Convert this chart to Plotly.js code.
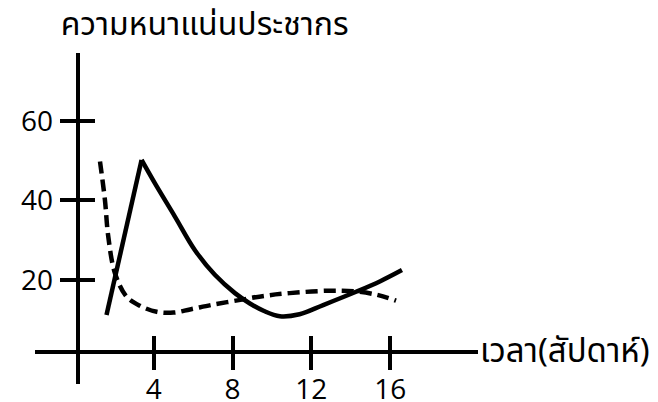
<!DOCTYPE html>
<html>
<head>
<meta charset="utf-8">
<script src="https://cdn.plot.ly/plotly-3.0.1.min.js"></script>
<style>html,body{margin:0;padding:0;background:#fff;}#chart{width:658px;height:402px;}</style>
</head>
<body>
<div id="chart"></div>
<script>
// Data
const titleText = "ความหนาแน่นประชากร";
const xTitleText = "เวลา(สัปดาห์)";
const xTicks = [4, 8, 12, 16];
const yTicks = [20, 40, 60];

// solid curve: straight rise then smooth fall/rise
const solidRiseX = [1.6, 3.38];
const solidRiseY = [11.2, 50.2];
const solidFallX = [3.38, 4.06, 5.08, 6.09, 7.1, 8.12, 8.88, 9.6, 10.4, 11.4, 12.6, 14.3, 15.5, 16.6];
const solidFallY = [50.2, 44.3, 35.9, 27.5, 21.3, 16.7, 14.1, 12.2, 10.9, 11.4, 13.7, 17.1, 19.7, 22.5];

// dashed curve
const dashX = [1.27, 1.52, 1.69, 2.03, 2.62, 3.3, 4.15, 5.0, 5.84, 7.0, 8.4, 9.6, 10.9, 12.9, 14.3, 15.4, 16.3];
const dashY = [49.8, 40.1, 30.9, 21.7, 15.8, 13.5, 12.0, 11.8, 12.6, 13.8, 15.0, 16.0, 16.7, 17.3, 17.1, 16.2, 14.8];

const FONT = "'Open Sans', Lato, sans-serif";
const THAI = "'Noto Sans Thai', Loma, Tahoma, 'Noto Sans', 'DejaVu Sans', sans-serif";
const xRange = [-2.03, 20.46];
const yRange = [-6.16, 77.1];
const xPos = 0.098, yPos = 0.096;

const traces = [
  {x: solidRiseX, y: solidRiseY, mode: 'lines', line: {color: '#000', width: 4.5}, hoverinfo: 'skip'},
  {x: solidFallX, y: solidFallY, mode: 'lines', line: {color: '#000', width: 4.5, shape: 'spline', smoothing: 1}, hoverinfo: 'skip'},
  {x: dashX, y: dashY, mode: 'lines', line: {color: '#000', width: 4.5, shape: 'spline', smoothing: 1, dash: '12px,6px'}, hoverinfo: 'skip'},
  {x: [], y: [], xaxis: 'x2', yaxis: 'y2', mode: 'lines', hoverinfo: 'skip'}
];

const common = {showgrid: false, zeroline: false, tickcolor: '#000', tickwidth: 4, ticklen: 16};

const layout = {
  width: 658, height: 402,
  margin: {l: 35, r: 180, t: 53, b: 18},
  paper_bgcolor: '#fff', plot_bgcolor: '#fff',
  showlegend: false,
  title: {text: titleText, font: {family: THAI, size: 32, color: '#000'}, x: 0.311, xanchor: 'center', y: 0.942, yanchor: 'middle'},
  xaxis: Object.assign({}, common, {range: xRange, tickvals: xTicks, ticktext: xTicks.map(String), ticks: 'outside',
    showline: true, linewidth: 4, linecolor: '#000', anchor: 'free', position: xPos, ticklabelstandoff: -4,
    tickfont: {family: FONT, size: 28, color: '#000'}}),
  yaxis: Object.assign({}, common, {range: yRange, tickvals: yTicks, ticktext: yTicks.map(String), ticks: 'outside',
    showline: true, linewidth: 4, linecolor: '#000', anchor: 'free', position: yPos, ticklabelstandoff: 1,
    tickfont: {family: FONT, size: 28, color: '#000'}}),
  xaxis2: Object.assign({}, common, {range: xRange, tickvals: xTicks, ticks: 'inside', showticklabels: false,
    showline: false, overlaying: 'x', anchor: 'free', position: xPos}),
  yaxis2: Object.assign({}, common, {range: yRange, tickvals: yTicks, ticks: 'inside', showticklabels: false,
    showline: false, overlaying: 'y', anchor: 'free', position: yPos}),
  annotations: [{text: xTitleText, xref: 'paper', yref: 'paper', x: 1.0, y: xPos, xanchor: 'left', yanchor: 'middle',
    showarrow: false, font: {family: THAI, size: 33, color: '#000'}}]
};

Plotly.newPlot('chart', traces, layout, {staticPlot: true, displayModeBar: false});
</script>
</body>
</html>
